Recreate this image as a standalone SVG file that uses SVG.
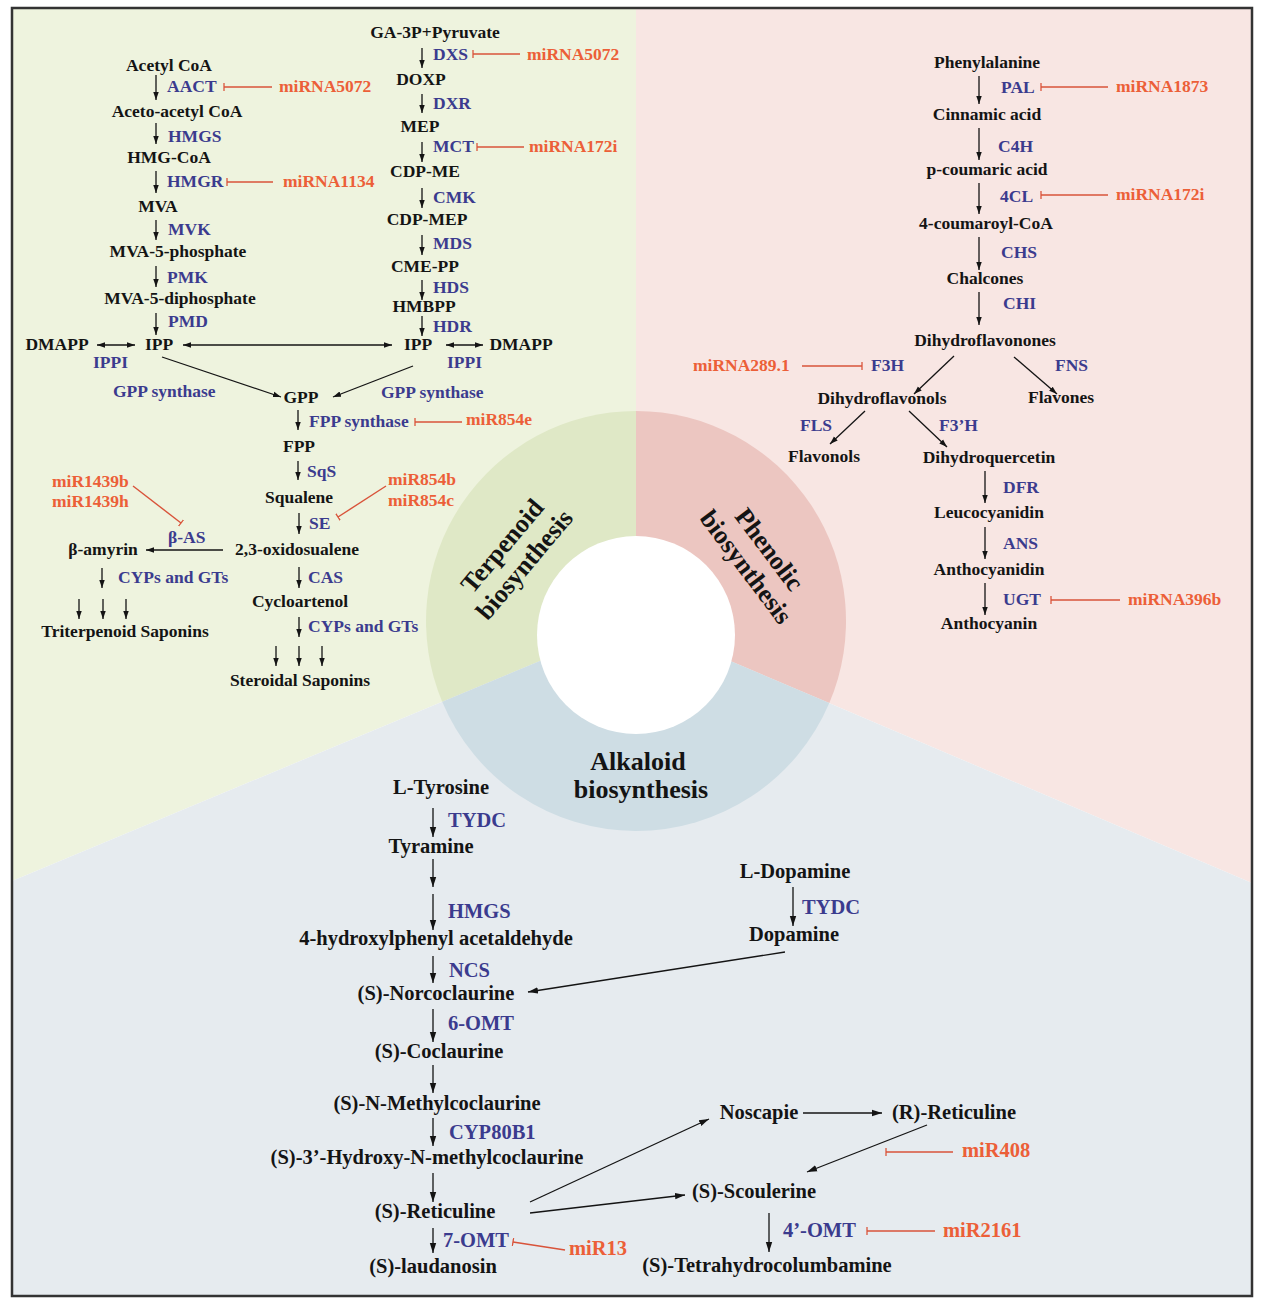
<svg xmlns="http://www.w3.org/2000/svg" width="1267" height="1305" viewBox="0 0 1267 1305">
<defs>
<style>
text{font-family:"Liberation Serif","Times New Roman",serif;font-weight:bold}
.k{fill:#141414;font-size:17.5px;text-anchor:middle}
.e{fill:#3b3b8e;font-size:17.5px}
.m{fill:#ec5f38;font-size:17.5px}
.ak{fill:#141414;font-size:20.5px;text-anchor:middle}
.ae{fill:#3b3b8e;font-size:20.5px}
.am{fill:#ec5f38;font-size:20.5px}
.c{fill:#141414;font-size:26px;text-anchor:middle}
.ar{stroke:#141414;stroke-width:1.3;fill:none;marker-end:url(#ah)}
.ar2{stroke:#141414;stroke-width:1.3;fill:none;marker-end:url(#ah2)}
.db{stroke:#141414;stroke-width:1.3;fill:none;marker-start:url(#ah);marker-end:url(#ah)}
.in{stroke:#d9533a;stroke-width:1.4;fill:none;marker-end:url(#tk)}
</style>
<marker id="ah" viewBox="0 0 10 10" refX="10" refY="5" markerWidth="8" markerHeight="8" markerUnits="userSpaceOnUse" orient="auto-start-reverse"><path d="M0,1.6 L10,5 L0,8.4 Z" fill="#141414"/></marker>
<marker id="ah2" viewBox="0 0 10 10" refX="10" refY="5" markerWidth="10" markerHeight="10" markerUnits="userSpaceOnUse" orient="auto-start-reverse"><path d="M0,1.8 L10,5 L0,8.2 Z" fill="#141414"/></marker>
<marker id="tk" viewBox="-1 -5 2 10" refX="0" refY="0" markerWidth="2" markerHeight="8" markerUnits="userSpaceOnUse" orient="auto"><path d="M0,-5 L0,5" stroke="#d9533a" stroke-width="1.6"/></marker>
</defs>

<g id="background">
<polygon points="12,8 636,8 636,621 12,881" fill="#eef3de"/>
<polygon points="636,8 1252,8 1252,883 636,621" fill="#f8e6e3"/>
<polygon points="12,881 636,621 1252,883 1252,1296 12,1296" fill="#e6ebef"/>
<path d="M636,621 L636,411 A210,210 0 0 0 442.2,701.8 Z" fill="#dfe8c6"/>
<path d="M636,621 L636,411 A210,210 0 0 1 829.3,703.1 Z" fill="#ecc6c1"/>
<path d="M636,621 L829.3,703.1 A210,210 0 0 1 442.2,701.8 Z" fill="#cedde4"/>
<circle cx="636" cy="635" r="99" fill="#ffffff"/>
<rect x="12" y="8" width="1240" height="1288" fill="none" stroke="#333" stroke-width="2.5"/>
</g>

<g id="center-labels">
<g id="lbl-terpenoid" transform="translate(513,555) rotate(-50)"><text class="c" x="0" y="-5.5">Terpenoid</text><text class="c" x="0" y="23.5">biosynthesis</text></g>
<g id="lbl-phenolic" transform="translate(758,558) rotate(53)"><text class="c" x="0" y="-5.5">Phenolic</text><text class="c" x="0" y="23.5">biosynthesis</text></g>
<g id="lbl-alkaloid"><text class="c" x="638" y="770">Alkaloid</text><text class="c" x="641" y="798">biosynthesis</text></g>
</g>

<g id="connectors">
<!-- MVA pathway -->
<line class="ar" x1="156" y1="75" x2="156" y2="100"/>
<line class="ar" x1="156" y1="123" x2="156" y2="144"/>
<line class="ar" x1="156" y1="171" x2="156" y2="193"/>
<line class="ar" x1="156" y1="220" x2="156" y2="240"/>
<line class="ar" x1="156" y1="266" x2="156" y2="287"/>
<line class="ar" x1="156" y1="313" x2="156" y2="335"/>
<line class="db" x1="97" y1="345" x2="135" y2="345"/>
<line class="db" x1="183" y1="345" x2="392" y2="345"/>
<line class="in" x1="272" y1="87" x2="224" y2="87"/>
<line class="in" x1="273" y1="182" x2="227" y2="182"/>
<!-- MEP pathway -->
<line class="ar" x1="422" y1="48" x2="422" y2="68"/>
<line class="ar" x1="422" y1="94" x2="422" y2="113"/>
<line class="ar" x1="422" y1="142" x2="422" y2="162"/>
<line class="ar" x1="422" y1="188" x2="422" y2="208"/>
<line class="ar" x1="422" y1="235" x2="422" y2="255"/>
<line class="ar" x1="422" y1="280" x2="422" y2="300"/>
<line class="ar" x1="422" y1="316" x2="422" y2="336"/>
<line class="db" x1="446" y1="345" x2="483" y2="345"/>
<line class="in" x1="520" y1="54" x2="473" y2="54"/>
<line class="in" x1="524" y1="147" x2="477" y2="147"/>
<!-- GPP onwards -->
<line class="ar" x1="162" y1="357" x2="281" y2="397"/>
<line class="ar" x1="413" y1="366" x2="333" y2="397"/>
<line class="ar" x1="298" y1="410" x2="298" y2="430"/>
<line class="in" x1="462" y1="422" x2="415" y2="422"/>
<line class="ar" x1="298" y1="461" x2="298" y2="480"/>
<line class="ar" x1="299" y1="513" x2="299" y2="534"/>
<line class="in" x1="133" y1="486" x2="181" y2="523"/>
<line class="in" x1="386" y1="486" x2="338" y2="517"/>
<line class="ar" x1="223" y1="550" x2="146" y2="550"/>
<line class="ar" x1="299" y1="567" x2="299" y2="588"/>
<line class="ar" x1="102" y1="568" x2="102" y2="588"/>
<line class="ar" x1="79" y1="599" x2="79" y2="619"/>
<line class="ar" x1="103" y1="599" x2="103" y2="619"/>
<line class="ar" x1="126" y1="599" x2="126" y2="619"/>
<line class="ar" x1="299" y1="617" x2="299" y2="637"/>
<line class="ar" x1="276" y1="646" x2="276" y2="666"/>
<line class="ar" x1="299" y1="646" x2="299" y2="666"/>
<line class="ar" x1="322" y1="646" x2="322" y2="666"/>
<!-- Phenolic -->
<line class="ar" x1="979" y1="76" x2="979" y2="104"/>
<line class="in" x1="1108" y1="87" x2="1041" y2="87"/>
<line class="ar" x1="979" y1="128" x2="979" y2="160"/>
<line class="ar" x1="979" y1="183" x2="979" y2="214"/>
<line class="in" x1="1108" y1="195" x2="1041" y2="195"/>
<line class="ar" x1="979" y1="237" x2="979" y2="270"/>
<line class="ar" x1="979" y1="292" x2="979" y2="325"/>
<line class="ar" x1="954" y1="356" x2="914" y2="394"/>
<line class="ar" x1="1014" y1="357" x2="1057" y2="394"/>
<line class="in" x1="802" y1="366" x2="862" y2="366"/>
<line class="ar" x1="865" y1="411" x2="830" y2="444"/>
<line class="ar" x1="909" y1="411" x2="947" y2="447"/>
<line class="ar" x1="985" y1="471" x2="985" y2="503"/>
<line class="ar" x1="985" y1="527" x2="985" y2="559"/>
<line class="ar" x1="985" y1="583" x2="985" y2="615"/>
<line class="in" x1="1120" y1="600" x2="1051" y2="600"/>
<!-- Alkaloid -->
<line class="ar2" x1="433" y1="808" x2="433" y2="837"/>
<line class="ar2" x1="433" y1="859" x2="433" y2="887"/>
<line class="ar2" x1="433" y1="894" x2="433" y2="930"/>
<line class="ar2" x1="433" y1="956" x2="433" y2="983"/>
<line class="ar2" x1="785" y1="952" x2="528" y2="992"/>
<line class="ar2" x1="433" y1="1009" x2="433" y2="1042"/>
<line class="ar2" x1="433" y1="1065" x2="433" y2="1093"/>
<line class="ar2" x1="433" y1="1118" x2="433" y2="1146"/>
<line class="ar2" x1="433" y1="1173" x2="433" y2="1202"/>
<line class="ar2" x1="530" y1="1202" x2="709" y2="1119"/>
<line class="ar2" x1="530" y1="1213" x2="685" y2="1195"/>
<line class="ar2" x1="433" y1="1228" x2="433" y2="1253"/>
<line class="in" x1="565" y1="1250" x2="513" y2="1242"/>
<line class="ar2" x1="793" y1="887" x2="793" y2="926"/>
<line class="ar2" x1="803" y1="1113" x2="882" y2="1113"/>
<line class="ar2" x1="927" y1="1125" x2="807" y2="1172"/>
<line class="in" x1="953" y1="1152" x2="886" y2="1152"/>
<line class="ar2" x1="769" y1="1213" x2="769" y2="1252"/>
<line class="in" x1="935" y1="1231" x2="867" y2="1231"/>
</g>

<g id="terpenoid-nodes">
<g id="n-acetylcoa"><text class="k" x="169" y="71">Acetyl CoA</text></g>
<g id="e-aact"><text class="e" x="167" y="92">AACT</text></g>
<g id="mi-5072a"><text class="m" x="279" y="92">miRNA5072</text></g>
<g id="n-acetoacetyl"><text class="k" x="177" y="117">Aceto-acetyl CoA</text></g>
<g id="e-hmgs"><text class="e" x="168" y="142">HMGS</text></g>
<g id="n-hmgcoa"><text class="k" x="169" y="163">HMG-CoA</text></g>
<g id="e-hmgr"><text class="e" x="167" y="187">HMGR</text></g>
<g id="mi-1134"><text class="m" x="283" y="187">miRNA1134</text></g>
<g id="n-mva"><text class="k" x="158" y="212">MVA</text></g>
<g id="e-mvk"><text class="e" x="168" y="235">MVK</text></g>
<g id="n-mva5p"><text class="k" x="178" y="257">MVA-5-phosphate</text></g>
<g id="e-pmk"><text class="e" x="167" y="283">PMK</text></g>
<g id="n-mva5pp"><text class="k" x="180" y="304">MVA-5-diphosphate</text></g>
<g id="e-pmd"><text class="e" x="168" y="327">PMD</text></g>
<g id="n-dmapp1"><text class="k" x="57" y="350">DMAPP</text></g>
<g id="n-ipp1"><text class="k" x="159" y="350">IPP</text></g>
<g id="e-ippi1"><text class="e" x="93" y="368">IPPI</text></g>
<g id="n-ga3p"><text class="k" x="435" y="38">GA-3P+Pyruvate</text></g>
<g id="e-dxs"><text class="e" x="433" y="60">DXS</text></g>
<g id="mi-5072b"><text class="m" x="527" y="60">miRNA5072</text></g>
<g id="n-doxp"><text class="k" x="421" y="85">DOXP</text></g>
<g id="e-dxr"><text class="e" x="433" y="109">DXR</text></g>
<g id="n-mep"><text class="k" x="420" y="132">MEP</text></g>
<g id="e-mct"><text class="e" x="433" y="152">MCT</text></g>
<g id="mi-172i-t"><text class="m" x="529" y="152">miRNA172i</text></g>
<g id="n-cdpme"><text class="k" x="425" y="177">CDP-ME</text></g>
<g id="e-cmk"><text class="e" x="433" y="203">CMK</text></g>
<g id="n-cdpmep"><text class="k" x="427" y="225">CDP-MEP</text></g>
<g id="e-mds"><text class="e" x="433" y="249">MDS</text></g>
<g id="n-cmepp"><text class="k" x="425" y="272">CME-PP</text></g>
<g id="e-hds"><text class="e" x="433" y="293">HDS</text></g>
<g id="n-hmbpp"><text class="k" x="424" y="312">HMBPP</text></g>
<g id="e-hdr"><text class="e" x="433" y="332">HDR</text></g>
<g id="n-ipp2"><text class="k" x="418" y="350">IPP</text></g>
<g id="n-dmapp2"><text class="k" x="521" y="350">DMAPP</text></g>
<g id="e-ippi2"><text class="e" x="447" y="368">IPPI</text></g>
<g id="e-gpps1"><text class="e" x="113" y="397">GPP synthase</text></g>
<g id="n-gpp"><text class="k" x="301" y="403">GPP</text></g>
<g id="e-gpps2"><text class="e" x="381" y="398">GPP synthase</text></g>
<g id="e-fpps"><text class="e" x="309" y="427">FPP synthase</text></g>
<g id="mi-854e"><text class="m" x="466" y="425">miR854e</text></g>
<g id="n-fpp"><text class="k" x="299" y="452">FPP</text></g>
<g id="e-sqs"><text class="e" x="307" y="477">SqS</text></g>
<g id="mi-1439"><text class="m" x="52" y="487">miR1439b</text><text class="m" x="52" y="507">miR1439h</text></g>
<g id="mi-854bc"><text class="m" x="388" y="485">miR854b</text><text class="m" x="388" y="506">miR854c</text></g>
<g id="n-squalene"><text class="k" x="299" y="503">Squalene</text></g>
<g id="e-se"><text class="e" x="309" y="529">SE</text></g>
<g id="e-bas"><text class="e" x="168" y="543">β-AS</text></g>
<g id="n-bamyrin"><text class="k" x="103" y="555">β-amyrin</text></g>
<g id="n-oxido"><text class="k" x="297" y="555">2,3-oxidosualene</text></g>
<g id="e-cas"><text class="e" x="308" y="583">CAS</text></g>
<g id="e-cyp1"><text class="e" x="118" y="583">CYPs and GTs</text></g>
<g id="n-trit"><text class="k" x="125" y="637">Triterpenoid Saponins</text></g>
<g id="n-cyclo"><text class="k" x="300" y="607">Cycloartenol</text></g>
<g id="e-cyp2"><text class="e" x="308" y="632">CYPs and GTs</text></g>
<g id="n-steroid"><text class="k" x="300" y="686">Steroidal Saponins</text></g>
</g>

<g id="phenolic-nodes">
<g id="n-phe"><text class="k" x="987" y="68">Phenylalanine</text></g>
<g id="e-pal"><text class="e" x="1001" y="93">PAL</text></g>
<g id="mi-1873"><text class="m" x="1116" y="92">miRNA1873</text></g>
<g id="n-cinn"><text class="k" x="987" y="120">Cinnamic acid</text></g>
<g id="e-c4h"><text class="e" x="998" y="152">C4H</text></g>
<g id="n-pcou"><text class="k" x="987" y="175">p-coumaric acid</text></g>
<g id="e-4cl"><text class="e" x="1000" y="202">4CL</text></g>
<g id="mi-172i-p"><text class="m" x="1116" y="200">miRNA172i</text></g>
<g id="n-4cou"><text class="k" x="986" y="229">4-coumaroyl-CoA</text></g>
<g id="e-chs"><text class="e" x="1001" y="258">CHS</text></g>
<g id="n-chal"><text class="k" x="985" y="284">Chalcones</text></g>
<g id="e-chi"><text class="e" x="1003" y="309">CHI</text></g>
<g id="n-dhfn"><text class="k" x="985" y="346">Dihydroflavonones</text></g>
<g id="mi-289"><text class="m" x="693" y="371">miRNA289.1</text></g>
<g id="e-f3h"><text class="e" x="871" y="371">F3H</text></g>
<g id="e-fns"><text class="e" x="1055" y="371">FNS</text></g>
<g id="n-dhfl"><text class="k" x="882" y="404">Dihydroflavonols</text></g>
<g id="n-flavones"><text class="k" x="1061" y="403">Flavones</text></g>
<g id="e-fls"><text class="e" x="800" y="431">FLS</text></g>
<g id="e-f3ph"><text class="e" x="939" y="431">F3’H</text></g>
<g id="n-flavonols"><text class="k" x="824" y="462">Flavonols</text></g>
<g id="n-dhq"><text class="k" x="989" y="463">Dihydroquercetin</text></g>
<g id="e-dfr"><text class="e" x="1003" y="493">DFR</text></g>
<g id="n-leuco"><text class="k" x="989" y="518">Leucocyanidin</text></g>
<g id="e-ans"><text class="e" x="1003" y="549">ANS</text></g>
<g id="n-anthd"><text class="k" x="989" y="575">Anthocyanidin</text></g>
<g id="e-ugt"><text class="e" x="1003" y="605">UGT</text></g>
<g id="mi-396b"><text class="m" x="1128" y="605">miRNA396b</text></g>
<g id="n-anthn"><text class="k" x="989" y="629">Anthocyanin</text></g>
</g>

<g id="alkaloid-nodes">
<g id="n-ltyr"><text class="ak" x="441" y="794">L-Tyrosine</text></g>
<g id="e-tydc1"><text class="ae" x="448" y="827">TYDC</text></g>
<g id="n-tyramine"><text class="ak" x="431" y="853">Tyramine</text></g>
<g id="e-hmgs2"><text class="ae" x="448" y="918">HMGS</text></g>
<g id="n-4hpaa"><text class="ak" x="436" y="945">4-hydroxylphenyl acetaldehyde</text></g>
<g id="e-ncs"><text class="ae" x="449" y="977">NCS</text></g>
<g id="n-norcoc"><text class="ak" x="436" y="1000">(S)-Norcoclaurine</text></g>
<g id="e-6omt"><text class="ae" x="448" y="1030">6-OMT</text></g>
<g id="n-coc"><text class="ak" x="439" y="1058">(S)-Coclaurine</text></g>
<g id="n-nmc"><text class="ak" x="437" y="1110">(S)-N-Methylcoclaurine</text></g>
<g id="e-cyp80"><text class="ae" x="449" y="1139">CYP80B1</text></g>
<g id="n-3oh"><text class="ak" x="427" y="1164">(S)-3’-Hydroxy-N-methylcoclaurine</text></g>
<g id="n-sret"><text class="ak" x="435" y="1218">(S)-Reticuline</text></g>
<g id="e-7omt"><text class="ae" x="443" y="1247">7-OMT</text></g>
<g id="mi-13"><text class="am" x="569" y="1255">miR13</text></g>
<g id="n-laud"><text class="ak" x="433" y="1273">(S)-laudanosin</text></g>
<g id="n-ldopa"><text class="ak" x="795" y="878">L-Dopamine</text></g>
<g id="e-tydc2"><text class="ae" x="802" y="914">TYDC</text></g>
<g id="n-dopa"><text class="ak" x="794" y="941">Dopamine</text></g>
<g id="n-nosc"><text class="ak" x="759" y="1119">Noscapie</text></g>
<g id="n-rret"><text class="ak" x="954" y="1119">(R)-Reticuline</text></g>
<g id="mi-408"><text class="am" x="962" y="1157">miR408</text></g>
<g id="n-scoul"><text class="ak" x="754" y="1198">(S)-Scoulerine</text></g>
<g id="e-4omt"><text class="ae" x="783" y="1237">4’-OMT</text></g>
<g id="mi-2161"><text class="am" x="943" y="1237">miR2161</text></g>
<g id="n-thc"><text class="ak" x="767" y="1272">(S)-Tetrahydrocolumbamine</text></g>
</g>
</svg>
